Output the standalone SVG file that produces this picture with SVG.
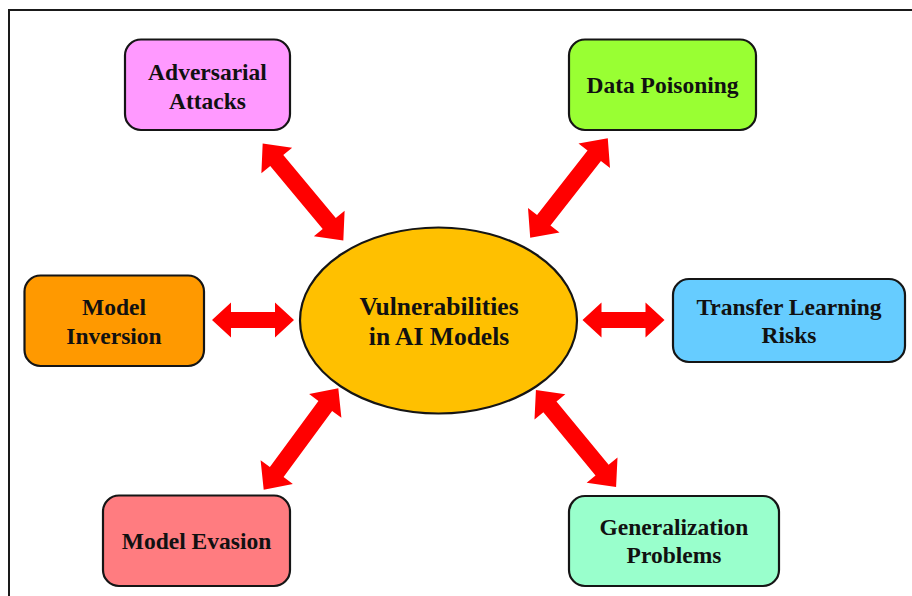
<svg xmlns="http://www.w3.org/2000/svg" width="912" height="596" viewBox="0 0 912 596">
<style>
.box{stroke:#151515;stroke-width:2.2}
.lbl{font-family:"Liberation Serif","Times New Roman",serif;font-weight:bold;font-size:23.5px;fill:#111;text-anchor:middle}
.ctr{font-size:25.5px}
.arr{fill:#ff0000}
</style>
<defs>
<polygon id="diag" points="-63,0 -41,-20 -41,-8.5 41,-8.5 41,-20 63,0 41,20 41,8.5 -41,8.5 -41,20"/>
<polygon id="hor" points="-41,0 -22,-17.5 -22,-8 22,-8 22,-17.5 41,0 22,17.5 22,8 -22,8 -22,17.5"/>
</defs>
<rect width="912" height="596" fill="#ffffff"/>
<path d="M9,600 V10 H915" fill="none" stroke="#1a1a1a" stroke-width="2"/>
<g id="connectors" class="arr">
<use href="#diag" transform="translate(303,192) rotate(50.2)"/>
<use href="#diag" transform="translate(569,188) rotate(-52)"/>
<use href="#hor" transform="translate(253,320)"/>
<use href="#hor" transform="translate(623.5,320)"/>
<use href="#diag" transform="translate(301,439) rotate(-53.7)"/>
<use href="#diag" transform="translate(576,438.5) rotate(50.5)"/>
</g>
<g id="center">
<ellipse class="box" cx="438.5" cy="320.5" rx="138.5" ry="93" fill="#ffc000"/>
<text class="lbl ctr" x="439" y="315">Vulnerabilities</text>
<text class="lbl ctr" x="439" y="345">in AI Models</text>
</g>
<g id="adversarial">
<rect class="box" x="125" y="39.5" width="165" height="90.5" rx="16" fill="#ff99ff"/>
<text class="lbl" x="207.5" y="80">Adversarial</text>
<text class="lbl" x="207.5" y="108.5">Attacks</text>
</g>
<g id="poisoning">
<rect class="box" x="569" y="39.5" width="187" height="90.5" rx="16" fill="#99ff33"/>
<text class="lbl" x="662.5" y="93">Data Poisoning</text>
</g>
<g id="inversion">
<rect class="box" x="24.5" y="275.5" width="179.5" height="90.5" rx="16" fill="#ff9900"/>
<text class="lbl" x="114" y="315">Model</text>
<text class="lbl" x="114" y="344">Inversion</text>
</g>
<g id="transfer">
<rect class="box" x="673" y="279" width="232" height="83" rx="16" fill="#66ccff"/>
<text class="lbl" x="789" y="315">Transfer Learning</text>
<text class="lbl" x="789" y="343">Risks</text>
</g>
<g id="evasion">
<rect class="box" x="103" y="495.5" width="187" height="90.5" rx="16" fill="#ff7c80"/>
<text class="lbl" x="196.5" y="549">Model Evasion</text>
</g>
<g id="generalization">
<rect class="box" x="569" y="496" width="210" height="90" rx="16" fill="#99ffcc"/>
<text class="lbl" x="674" y="535">Generalization</text>
<text class="lbl" x="674" y="563">Problems</text>
</g>
</svg>
